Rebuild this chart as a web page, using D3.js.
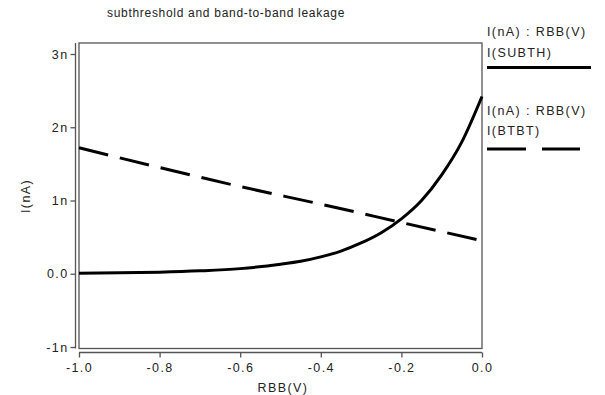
<!DOCTYPE html>
<html><head><meta charset="utf-8">
<script src="https://cdn.jsdelivr.net/npm/d3@7"></script>
<style>
body{margin:0;background:#fff;}
text{font-family:"Liberation Sans",Arial,sans-serif;fill:#222;letter-spacing:1.4px;}
</style></head>
<body><svg id="c" width="605" height="395"></svg>
<script>
const rbbSubth = [-1.0,-0.9,-0.8,-0.7,-0.6,-0.5,-0.45,-0.4,-0.35,-0.3,-0.25,-0.2,-0.15,-0.1,-0.05,0.0];
const iSubth   = [0.007,0.012,0.022,0.04,0.07,0.13,0.17,0.23,0.31,0.42,0.56,0.75,1.0,1.35,1.8,2.42];
const rbbBtbt  = [-1.0,-0.8,-0.6,-0.4,-0.2,0.0];
const iBtbt    = [1.72,1.45,1.19,0.95,0.70,0.45];
const xTicks = [-1.0,-0.8,-0.6,-0.4,-0.2,0.0];
const xTickLabels = ["-1.0","-0.8","-0.6","-0.4","-0.2","0.0"];
const yTicks = [-1,0,1,2,3];
const yTickLabels = ["-1n","0.0","1n","2n","3n"];

const svg = d3.select("#c");
const x = d3.scaleLinear().domain([-1,0]).range([79,482]);
const y = d3.scaleLinear().domain([-1,3]).range([347,54]);
const frameTop = 43, frameBottom = 348.5, frameLeft = 79, frameRight = 482;
const FS = 12.5;

// title
svg.append("text").attr("x",226).attr("y",17).attr("text-anchor","middle")
  .attr("font-size",12).style("letter-spacing","0.7px").text("subthreshold and band-to-band leakage");

// frame
svg.append("rect").attr("x",frameLeft).attr("y",frameTop)
  .attr("width",frameRight-frameLeft).attr("height",frameBottom-frameTop)
  .attr("fill","none").attr("stroke","#555").attr("stroke-width",1.3);

// y axis
const yAxis = d3.axisLeft(y).tickValues(yTicks).tickSize(5).tickPadding(2)
  .tickFormat(d=>yTickLabels[yTicks.indexOf(d)]);
const gy = svg.append("g").attr("transform","translate(75.5,0)").call(yAxis);
gy.select(".domain").attr("d",`M-0,${frameTop}V${frameBottom}`).attr("stroke","#555").attr("stroke-width",1.3);
gy.selectAll(".tick line").attr("stroke","#555").attr("stroke-width",1.3);
gy.selectAll(".tick text").attr("font-size",FS).attr("font-family","Liberation Sans, Arial, sans-serif").attr("fill","#222");

// x axis
const xAxis = d3.axisBottom(x).tickValues(xTicks).tickSize(5).tickPadding(6)
  .tickFormat(d=>xTickLabels[xTicks.indexOf(d)]);
const gx = svg.append("g").attr("transform","translate(0,352.5)").call(xAxis);
gx.select(".domain").attr("d",`M${frameLeft},0H${frameRight}`).attr("stroke","#555").attr("stroke-width",1.3);
gx.selectAll(".tick line").attr("stroke","#555").attr("stroke-width",1.3);
gx.selectAll(".tick text").attr("font-size",FS).attr("font-family","Liberation Sans, Arial, sans-serif").attr("fill","#222");

// axis titles
svg.append("text").attr("x",283).attr("y",392).attr("text-anchor","middle")
  .attr("font-size",FS).text("RBB(V)");
svg.append("text").attr("transform","translate(30,196) rotate(-90)").attr("text-anchor","middle")
  .attr("font-size",FS).text("I(nA)");

// lines
const line = d3.line().x(d=>x(d[0])).y(d=>y(d[1])).curve(d3.curveMonotoneX);
svg.append("path").datum(rbbSubth.map((v,i)=>[v,iSubth[i]]))
  .attr("d",line).attr("fill","none").attr("stroke","#000").attr("stroke-width",3);
svg.append("path").datum(rbbBtbt.map((v,i)=>[v,iBtbt[i]]))
  .attr("d",line).attr("fill","none").attr("stroke","#000").attr("stroke-width",3)
  .attr("stroke-dasharray","30,12");

// legend
const lg = svg.append("g");
lg.append("text").attr("x",487).attr("y",36).attr("font-size",FS).text("I(nA) : RBB(V)");
lg.append("text").attr("x",487).attr("y",57).attr("font-size",FS).text("I(SUBTH)");
lg.append("line").attr("x1",487).attr("x2",591).attr("y1",67.5).attr("y2",67.5)
  .attr("stroke","#000").attr("stroke-width",3);
lg.append("text").attr("x",487).attr("y",115).attr("font-size",FS).text("I(nA) : RBB(V)");
lg.append("text").attr("x",487).attr("y",135).attr("font-size",FS).text("I(BTBT)");
lg.append("line").attr("x1",487).attr("x2",580).attr("y1",149).attr("y2",149)
  .attr("stroke","#000").attr("stroke-width",3).attr("stroke-dasharray","39,16");
</script></body></html>
